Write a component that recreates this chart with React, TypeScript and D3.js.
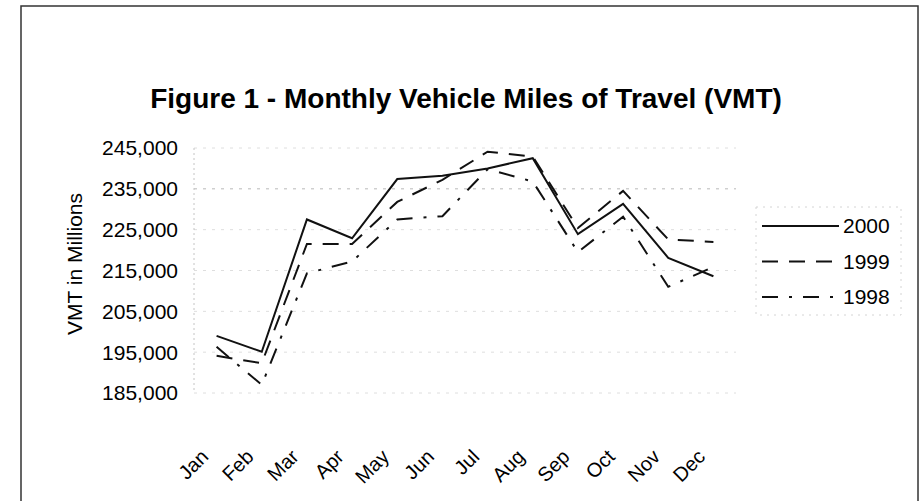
import React, { useEffect, useRef } from "react";
import * as d3 from "d3";

const months = ["Jan", "Feb", "Mar", "Apr", "May", "Jun", "Jul", "Aug", "Sep", "Oct", "Nov", "Dec"];
const vmt2000 = [199000, 195100, 227500, 222900, 237400, 238200, 240000, 242500, 223900, 231300, 218100, 213600];
const vmt1999 = [194100, 192300, 221500, 221500, 231800, 237200, 244100, 242900, 225400, 234500, 222600, 222000];
const vmt1998 = [196300, 187000, 214300, 217200, 227500, 228300, 239800, 236800, 219500, 228200, 211000, 215900];
const yTicks = [185000, 195000, 205000, 215000, 225000, 235000, 245000];

const seriesList = [
  { name: "2000", values: vmt2000, dash: "" },
  { name: "1999", values: vmt1999, dash: "16,11" },
  { name: "1998", values: vmt1998, dash: "16,11,3,11" },
];

const App: React.FC = () => {
  const svgRef = useRef<SVGSVGElement>(null);

  useEffect(() => {
    if (!svgRef.current) return;
    const svg = d3.select(svgRef.current);
    const width = 920;
    const height = 501;
    const plot = { left: 194, right: 736, top: 148, bottom: 393 };
    const font = "'Liberation Sans', Arial, sans-serif";

    svg.attr("width", width).attr("height", height);

    // frame
    svg
      .append("rect")
      .attr("x", 21)
      .attr("y", 6)
      .attr("width", 897)
      .attr("height", 510)
      .attr("fill", "white")
      .attr("stroke", "#333")
      .attr("stroke-width", 1.5);

    svg
      .append("text")
      .attr("x", 466)
      .attr("y", 108)
      .attr("text-anchor", "middle")
      .style("font-family", font)
      .style("font-weight", "bold")
      .style("font-size", "28px")
      .text("Figure 1 - Monthly Vehicle Miles of Travel (VMT)");

    const x = d3.scaleBand<string>().domain(months).range([plot.left, plot.right]);
    const y = d3.scaleLinear().domain([185000, 245000]).range([plot.bottom, plot.top]);
    const cx = (m: string) => (x(m) as number) + x.bandwidth() / 2;

    // faint gridlines (mostly washed out in the scan)
    svg
      .append("g")
      .selectAll("line")
      .data(yTicks)
      .enter()
      .append("line")
      .attr("x1", plot.left)
      .attr("x2", plot.right)
      .attr("y1", (d) => y(d))
      .attr("y2", (d) => y(d))
      .attr("stroke", (d) => (d === 235000 ? "#b8b8b8" : "#dedede"))
      .attr("stroke-dasharray", "3,6");

    svg
      .append("line")
      .attr("x1", plot.left)
      .attr("x2", plot.left)
      .attr("y1", plot.top)
      .attr("y2", plot.bottom)
      .attr("stroke", "#c4c4c4")
      .attr("stroke-dasharray", "2,3");

    // y tick labels
    svg
      .append("g")
      .selectAll("text")
      .data(yTicks)
      .enter()
      .append("text")
      .attr("x", 178)
      .attr("y", (d) => y(d))
      .attr("dy", "0.35em")
      .attr("text-anchor", "end")
      .style("font-family", font)
      .style("font-size", "21px")
      .text((d) => d3.format(",")(d));

    svg
      .append("text")
      .attr("transform", `translate(82,264) rotate(-90)`)
      .attr("text-anchor", "middle")
      .style("font-family", font)
      .style("font-size", "21px")
      .text("VMT in Millions");

    // x labels
    svg
      .append("g")
      .selectAll("text")
      .data(months)
      .enter()
      .append("text")
      .attr("transform", (d) => `translate(${cx(d) - 7},458) rotate(-45)`)
      .attr("text-anchor", "end")
      .style("font-family", font)
      .style("font-size", "20px")
      .text((d) => d);

    const line = d3
      .line<number>()
      .x((_, i) => cx(months[i]))
      .y((d) => y(d));

    svg
      .append("g")
      .selectAll("path")
      .data(seriesList)
      .enter()
      .append("path")
      .attr("fill", "none")
      .attr("stroke", "#111")
      .attr("stroke-width", 2)
      .attr("stroke-dasharray", (d) => d.dash)
      .attr("d", (d) => line(d.values));

    // legend
    const legend = svg.append("g");
    legend
      .append("rect")
      .attr("x", 756)
      .attr("y", 207)
      .attr("width", 145)
      .attr("height", 108)
      .attr("fill", "none")
      .attr("stroke", "#d4d4d4")
      .attr("stroke-dasharray", "2,5");

    const items = legend
      .selectAll("g.item")
      .data(seriesList)
      .enter()
      .append("g")
      .attr("class", "item")
      .attr("transform", (_, i) => `translate(0,${226 + i * 35.5})`);

    items
      .append("line")
      .attr("x1", 762)
      .attr("x2", 839)
      .attr("stroke", "#111")
      .attr("stroke-width", 2)
      .attr("stroke-dasharray", (d) => d.dash);

    items
      .append("text")
      .attr("x", 843)
      .attr("dy", "0.35em")
      .style("font-family", font)
      .style("font-size", "21px")
      .text((d) => d.name);

    return () => {
      svg.selectAll("*").remove();
    };
  }, []);

  return <svg ref={svgRef} style={{ position: "absolute", left: 0, top: 0, background: "white" }} />;
};

export default App;
